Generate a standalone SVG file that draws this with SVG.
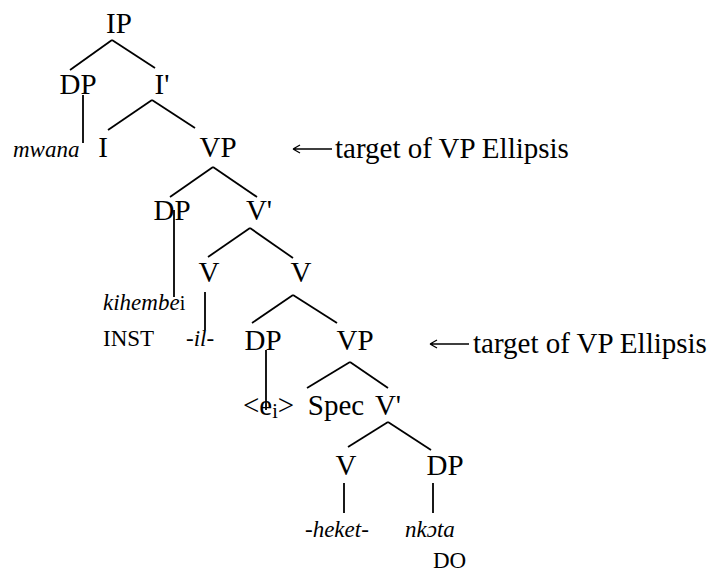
<svg xmlns="http://www.w3.org/2000/svg" width="717" height="573" viewBox="0 0 717 573" font-family="'Liberation Serif', 'Times New Roman', 'DejaVu Serif', serif">
<style>
text{font-family:"Liberation Serif","Times New Roman","DejaVu Serif",serif;fill:#000}
.n{font-size:29px;text-anchor:middle}
.w{font-size:23px;font-style:italic}
.s{font-size:23px}
.t{font-size:29px}
.sub{font-size:20px;font-style:normal}
#edges line,.arr{stroke:#000;stroke-width:1.8;fill:none}
.arr{stroke-width:1.3}
</style>
<rect width="717" height="573" fill="#fff"/>
<g id="edges">
<line x1="112" y1="40" x2="70" y2="70"/>
<line x1="112" y1="40" x2="155" y2="68"/>
<line x1="83" y1="95" x2="83" y2="143"/>
<line x1="152" y1="100" x2="108" y2="130"/>
<line x1="152" y1="100" x2="195" y2="128"/>
<line x1="213" y1="167" x2="170" y2="197"/>
<line x1="213" y1="167" x2="257" y2="197"/>
<line x1="174" y1="210" x2="174" y2="297"/>
<line x1="250" y1="228" x2="208" y2="257"/>
<line x1="250" y1="228" x2="293" y2="258"/>
<line x1="205" y1="292" x2="205" y2="330"/>
<line x1="293" y1="295" x2="252" y2="323"/>
<line x1="293" y1="295" x2="337" y2="323"/>
<line x1="266" y1="350" x2="266" y2="410"/>
<line x1="350" y1="362" x2="307" y2="388"/>
<line x1="350" y1="362" x2="388" y2="388"/>
<line x1="388" y1="422" x2="348" y2="447"/>
<line x1="388" y1="422" x2="431" y2="450"/>
<line x1="344" y1="483" x2="344" y2="513"/>
<line x1="433" y1="483" x2="433" y2="513"/>
</g>
<g id="IP"><text class="n" x="119" y="33">IP</text></g>
<g id="DP1"><text class="n" x="78" y="94">DP</text></g>
<g id="Ibar"><text class="n" x="162" y="94">I'</text></g>
<g id="mwana"><text class="w" x="13" y="157">mwana</text></g>
<g id="I"><text class="n" x="103" y="157">I</text></g>
<g id="VP1"><text class="n" x="218" y="157">VP</text></g>
<g id="note1">
<path class="arr" d="M293 149H332M293 149L300 145M293 149L300 153"/>
<text class="t" x="335" y="158">target of VP Ellipsis</text>
</g>
<g id="DP2"><text class="n" x="172" y="220">DP</text></g>
<g id="Vbar1"><text class="n" x="259" y="220">V'</text></g>
<g id="V1"><text class="n" x="209" y="282">V</text></g>
<g id="V2"><text class="n" x="301" y="282">V</text></g>
<g id="kihembei"><text class="w" x="103" y="310">kihembe<tspan class="sub">i</tspan></text></g>
<g id="INST"><text class="s" x="103" y="346">INST</text></g>
<g id="il"><text class="w" x="186" y="346">-il-</text></g>
<g id="DP3"><text class="n" x="263" y="350">DP</text></g>
<g id="VP2"><text class="n" x="355" y="350">VP</text></g>
<g id="note2">
<path class="arr" d="M430 344H469M430 344L437 340M430 344L437 348"/>
<text class="t" x="473" y="353">target of VP Ellipsis</text>
</g>
<g id="ei"><text class="t" x="243" y="415">&lt;e<tspan class="sub" dy="3">i</tspan><tspan dy="-3">&gt;</tspan></text></g>
<g id="Spec"><text class="n" x="336" y="415">Spec</text></g>
<g id="Vbar2"><text class="n" x="388" y="415">V'</text></g>
<g id="V3"><text class="n" x="346" y="475">V</text></g>
<g id="DP4"><text class="n" x="445" y="475">DP</text></g>
<g id="heket"><text class="w" x="305" y="537">-heket-</text></g>
<g id="nkota"><text class="w" x="405" y="537">nkɔta</text></g>
<g id="DO"><text class="s" x="433" y="568">DO</text></g>
</svg>
